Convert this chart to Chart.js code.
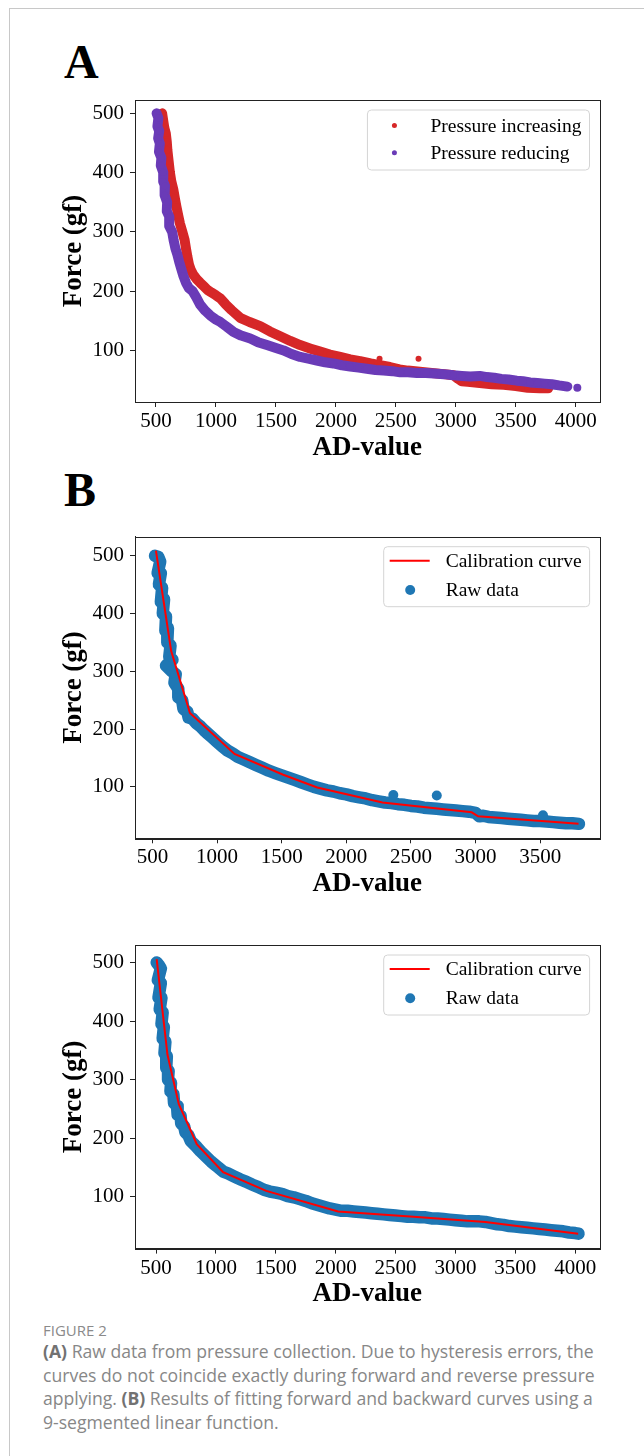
<!DOCTYPE html>
<html>
<head>
<meta charset="utf-8">
<script src="https://cdn.jsdelivr.net/npm/chart.js@4.4.1/dist/chart.umd.min.js"></script>
<style>
  html, body { margin: 0; padding: 0; background: #fff; }
  body { width: 644px; height: 1456px; position: relative; overflow: hidden; }
  .card { position: absolute; left: 9px; top: 8px; width: 700px; height: 1500px;
          border-left: 1px solid #c8c8c8; border-top: 1px solid #c8c8c8; }
  .letter { position: absolute; left: 64px; font-family: 'Liberation Serif', serif;
            font-weight: bold; font-size: 48px; line-height: 48px; color: #000; }
  canvas { position: absolute; left: 0; }
  .fig { position: absolute; left: 43px; top: 1320px; font-family: 'Open Sans', sans-serif;
         font-size: 15px; line-height: 20px; color: #8a8a8a; }
  .cap { position: absolute; left: 43px; top: 1340px; font-family: 'Open Sans', sans-serif;
         font-size: 17.6px; line-height: 23.5px; color: #878787; white-space: nowrap; }
  .cap b { color: #727272; }
</style>
</head>
<body>
<div class="card"></div>
<div class="letter" style="top:38px">A</div>
<div class="letter" style="top:466px">B</div>
<canvas id="chartA" width="644" height="470" style="top:0"></canvas>
<canvas id="chartB" width="644" height="440" style="top:470px"></canvas>
<canvas id="chartC" width="644" height="410" style="top:910px"></canvas>
<div class="fig">FIGURE 2</div>
<div class="cap"><b>(A)</b> Raw data from pressure collection. Due to hysteresis errors, the<br>curves do not coincide exactly during forward and reverse pressure<br>applying. <b>(B)</b> Results of fitting forward and backward curves using a<br>9-segmented linear function.</div>

<script>
// tick labels
const adTicks = [500, 1000, 1500, 2000, 2500, 3000, 3500, 4000];
const adTicksB = [500, 1000, 1500, 2000, 2500, 3000, 3500];
const forceTicks = [100, 200, 300, 400, 500];

// (A) pressure increasing
const incAD = [551, 560, 570, 582, 590, 595, 605, 616, 628, 645, 657, 670, 685, 700, 720, 739, 750, 762, 775, 790,
  810, 840, 869, 900, 930, 960, 1000, 1036, 1080, 1130, 1202, 1280, 1369, 1450, 1536, 1620, 1702, 1790, 1869, 1950,
  2036, 2120, 2202, 2290, 2369, 2450, 2530, 2600, 2700, 2800, 2900, 2980, 3020, 3050, 3100, 3200, 3300, 3400, 3500, 3600,
  3700, 3770];
const incForce = [500, 488, 475, 466, 452, 438, 420, 400, 385, 371, 357, 343, 328, 314, 300, 286, 272, 258, 245, 236,
  228, 220, 214, 208, 202, 198, 193, 188, 178, 168, 155, 148, 141, 132, 124, 116, 109, 103, 98, 93,
  89, 85, 82, 78, 75, 72, 68, 66, 64, 62, 60, 58, 52, 48, 47, 45, 43, 42, 40, 37,
  36, 36];
const incOutAD = [2364, 2689];
const incOutForce = [86, 86];

// (A) pressure reducing
const decAD = [505, 520, 512, 527, 518, 532, 525, 545, 540, 561, 560, 575, 572, 593, 590, 612, 610, 635, 648, 662,
  678, 693, 710, 728, 750, 775, 805, 835, 869, 910, 952, 1000, 1036, 1090, 1147, 1210, 1286, 1350, 1425, 1500,
  1564, 1630, 1702, 1770, 1841, 1910, 1980, 2050, 2119, 2190, 2258, 2330, 2397, 2470, 2536, 2600, 2675, 2750, 2820, 2900,
  2980, 3050, 3120, 3200, 3260, 3320, 3380, 3440, 3508, 3560, 3620, 3680, 3740, 3800, 3860, 3930];
const decForce = [500, 492, 478, 470, 458, 449, 435, 425, 412, 400, 385, 378, 362, 350, 335, 325, 310, 300, 285, 272,
  262, 250, 238, 226, 214, 205, 200, 190, 177, 167, 159, 152, 148, 140, 131, 125, 120, 114, 109, 104,
  100, 94, 89, 86, 83, 80, 78, 75, 73, 71, 69, 67, 66, 65, 63, 63, 62, 62, 61, 60,
  58, 57, 56, 57, 55, 54, 52, 51, 49, 48, 46, 45, 44, 43, 41, 39];
const decOutAD = [4013];
const decOutForce = [37];

// (B) forward curve: raw data + 9-segment fit
const rawAD_B = [520, 545, 560, 540, 565, 550, 575, 565, 590, 580, 605, 600, 620, 615, 640, 630, 655, 605, 650, 680,
  670, 700, 700, 730, 740, 770, 780, 810, 840, 870, 900, 930, 960, 1000, 1040, 1080, 1120, 1160, 1200, 1250,
  1300, 1350, 1400, 1450, 1500, 1550, 1600, 1650, 1700, 1750, 1800, 1850, 1900, 1950, 2000, 2050, 2100, 2150, 2200, 2250,
  2300, 2350, 2400, 2450, 2500, 2550, 2600, 2650, 2700, 2750, 2800, 2850, 2900, 2950, 3000, 3030, 3060, 3100, 3150, 3200,
  3250, 3300, 3350, 3400, 3450, 3500, 3550, 3600, 3650, 3700, 3750, 3800];
const rawForce_B = [500, 498, 490, 470, 470, 450, 445, 420, 425, 400, 395, 370, 375, 350, 345, 325, 320, 310, 300, 295,
  280, 270, 255, 250, 235, 230, 220, 218, 210, 205, 198, 192, 186, 178, 170, 163, 158, 152, 148, 143,
  138, 133, 128, 124, 120, 116, 112, 108, 104, 100, 97, 94, 92, 89, 87, 84, 82, 80, 77, 75,
  73, 72, 70, 69, 67, 66, 64, 63, 62, 61, 60, 59, 58, 57, 55, 49, 50, 48, 47, 46,
  45, 44, 43, 42, 41, 41, 40, 39, 38, 37, 37, 36];
const rawOutAD_B = [2364, 2700, 3522];
const rawOutForce_B = [86, 85, 51];
const fitAD_B = [527, 645, 790, 1135, 1512, 1775, 2280, 2970, 3020, 3797];
const fitForce_B = [509, 335, 228, 157, 121, 99, 73, 56, 49, 36];

// (B) backward curve: raw data + 9-segment fit
const rawAD_C = [505, 525, 540, 515, 540, 520, 545, 530, 555, 545, 565, 555, 578, 570, 590, 585, 605, 600, 625, 620,
  645, 650, 675, 680, 705, 710, 735, 745, 770, 790, 815, 840, 870, 900, 930, 960, 990, 1020, 1060, 1100,
  1150, 1200, 1250, 1300, 1350, 1400, 1450, 1500, 1550, 1600, 1650, 1700, 1750, 1800, 1850, 1900, 1950, 2000, 2050, 2100,
  2150, 2200, 2250, 2300, 2350, 2400, 2450, 2500, 2550, 2600, 2650, 2700, 2750, 2800, 2850, 2900, 2950, 3000, 3050, 3100,
  3150, 3200, 3250, 3300, 3350, 3400, 3450, 3500, 3550, 3600, 3650, 3700, 3750, 3800, 3850, 3900, 3950, 4000, 4028];
const rawForce_C = [500, 495, 490, 470, 465, 440, 440, 420, 415, 395, 390, 370, 365, 345, 340, 320, 315, 300, 295, 280,
  275, 260, 255, 240, 238, 225, 220, 210, 205, 195, 190, 185, 178, 172, 166, 160, 155, 150, 143, 140,
  135, 130, 126, 121, 117, 112, 109, 107, 105, 101, 99, 96, 93, 89, 86, 83, 80, 78, 76, 76,
  75, 74, 73, 72, 71, 70, 69, 68, 67, 66, 66, 65, 65, 63, 63, 62, 61, 60, 59, 58,
  58, 58, 57, 55, 53, 52, 50, 49, 48, 47, 46, 45, 44, 43, 42, 41, 39, 38, 37];
const fitAD_C = [505, 595, 690, 840, 1060, 1420, 2020, 2650, 3250, 4025];
const fitForce_C = [506, 343, 258, 190, 142, 110, 75, 66, 57, 37];

const RED = '#d62728', PURPLE = '#6a3bb7', BLUE = '#1f77b4', FIT = '#ff0000';
const SERIF = "'Liberation Serif', 'Times New Roman', serif";

const pts = (xs, ys) => xs.map((x, i) => ({ x: x, y: ys[i] }));

// matplotlib-like box around the axes
const frame = {
  id: 'frame',
  afterDatasetsDraw(chart) {
    const a = chart.chartArea, ctx = chart.ctx;
    ctx.save();
    ctx.strokeStyle = '#222';
    ctx.lineWidth = 1;
    ctx.strokeRect(Math.round(a.left) + 0.5, Math.round(a.top) + 0.5,
      Math.round(a.right - a.left), Math.round(a.bottom - a.top));
    ctx.restore();
  }
};

// legend box in the upper right corner, entries taken from the datasets
const legendBox = {
  id: 'legendBox',
  afterDraw(chart, args, opts) {
    if (!opts.items) return;
    const ctx = chart.ctx, a = chart.chartArea;
    ctx.save();
    ctx.font = '19.5px ' + SERIF;
    const labels = opts.items.map(it => chart.data.datasets[it.ds].label);
    const textW = Math.max(...labels.map(l => ctx.measureText(l).width));
    const w = opts.textX + textW + 8, h = 60;
    const x0 = a.right - 10 - w, y0 = a.top + 10;
    ctx.beginPath();
    ctx.roundRect(x0, y0, w, h, 4);
    ctx.fillStyle = 'rgba(255,255,255,0.8)';
    ctx.fill();
    ctx.strokeStyle = '#d4d4d4';
    ctx.lineWidth = 1;
    ctx.stroke();
    opts.items.forEach((it, i) => {
      const ds = chart.data.datasets[it.ds];
      const y = y0 + opts.rowY[i];
      if (it.kind === 'line') {
        ctx.strokeStyle = ds.borderColor;
        ctx.lineWidth = 2;
        ctx.beginPath();
        ctx.moveTo(x0 + 6, y);
        ctx.lineTo(x0 + 46, y);
        ctx.stroke();
      } else {
        ctx.fillStyle = ds.backgroundColor;
        ctx.beginPath();
        ctx.arc(x0 + opts.dotX, y, opts.dotR, 0, Math.PI * 2);
        ctx.fill();
      }
      ctx.fillStyle = '#000';
      ctx.textBaseline = 'middle';
      ctx.fillText(labels[i], x0 + opts.textX, y + 1);
    });
    ctx.restore();
  }
};

function axes(xRange, yRange, xTicks, yW, xH) {
  const tickFont = { family: SERIF, size: 21 };
  const titleFont = { family: SERIF, size: 27, weight: 'bold', lineHeight: 1.2 };
  const grid = { drawOnChartArea: false, tickLength: 5, tickColor: '#222', tickWidth: 1 };
  return {
    x: {
      type: 'linear', min: xRange[0], max: xRange[1],
      afterBuildTicks: s => { s.ticks = xTicks.map(v => ({ value: v })); },
      afterFit: s => { s.height = xH; },
      ticks: { font: tickFont, color: '#000', padding: 2, maxRotation: 0, autoSkip: false, callback: v => String(v) },
      grid: grid,
      border: { display: true, color: '#222', width: 1 },
      title: { display: true, text: 'AD-value', font: titleFont, color: '#000', padding: 0 }
    },
    y: {
      type: 'linear', min: yRange[0], max: yRange[1],
      afterBuildTicks: s => { s.ticks = forceTicks.map(v => ({ value: v })); },
      afterFit: s => { s.width = yW; },
      ticks: { font: tickFont, color: '#000', padding: 6, autoSkip: false, callback: v => String(v) },
      grid: grid,
      border: { display: true, color: '#222', width: 1 },
      title: { display: true, text: 'Force (gf)', font: titleFont, color: '#000', padding: 0 }
    }
  };
}

function band(label, xs, ys, color, width, r, order) {
  return {
    label: label, data: pts(xs, ys), showLine: true, tension: 0,
    borderColor: color, backgroundColor: color, borderWidth: width,
    borderJoinStyle: 'round', borderCapStyle: 'round',
    pointRadius: r, pointBorderWidth: 0, pointBackgroundColor: color, order: order
  };
}
function dots(label, xs, ys, color, r, order) {
  return {
    label: label, data: pts(xs, ys), showLine: false,
    backgroundColor: color, borderColor: color, pointRadius: r, pointBorderWidth: 0, order: order
  };
}

const common = {
  responsive: false, animation: false, devicePixelRatio: 1,
  plugins: { legend: { display: false }, tooltip: { enabled: false } }
};

new Chart(document.getElementById('chartA'), {
  type: 'scatter',
  data: {
    datasets: [
      band('Pressure increasing', incAD, incForce, RED, 10, 3.5, 4),
      band('Pressure reducing', decAD, decForce, PURPLE, 10, 3.5, 2),
      dots('', incOutAD, incOutForce, RED, 3, 3),
      dots('', decOutAD, decOutForce, PURPLE, 4, 1)
    ]
  },
  options: Object.assign({}, common, {
    layout: { padding: { left: 58, right: 44.5, top: 100, bottom: 6 } },
    scales: axes([325, 4198], [13, 522.5], adTicks, 77, 62),
    plugins: Object.assign({}, common.plugins, {
      legendBox: { items: [{ ds: 0, kind: 'dot' }, { ds: 1, kind: 'dot' }], rowY: [15.5, 42.8], dotX: 27, dotR: 2.5, textX: 63 }
    })
  }),
  plugins: [frame, legendBox]
});

new Chart(document.getElementById('chartB'), {
  type: 'scatter',
  data: {
    datasets: [
      { label: 'Calibration curve', data: pts(fitAD_B, fitForce_B), showLine: true, tension: 0,
        borderColor: FIT, backgroundColor: FIT, borderWidth: 2, pointRadius: 0, order: 0 },
      band('Raw data', rawAD_B, rawForce_B, BLUE, 12.5, 5.5, 2),
      dots('', rawOutAD_B, rawOutForce_B, BLUE, 5, 1)
    ]
  },
  options: Object.assign({}, common, {
    layout: { padding: { left: 58, right: 44.4, top: 66.7, bottom: 10 } },
    scales: axes([365, 3960], [11, 533], adTicksB, 77, 61.7),
    plugins: Object.assign({}, common.plugins, {
      legendBox: { items: [{ ds: 0, kind: 'line' }, { ds: 1, kind: 'dot' }], rowY: [14, 43.3], dotX: 26.5, dotR: 5, textX: 62 }
    })
  }),
  plugins: [frame, legendBox]
});

new Chart(document.getElementById('chartC'), {
  type: 'scatter',
  data: {
    datasets: [
      { label: 'Calibration curve', data: pts(fitAD_C, fitForce_C), showLine: true, tension: 0,
        borderColor: FIT, backgroundColor: FIT, borderWidth: 2, pointRadius: 0, order: 0 },
      band('Raw data', rawAD_C, rawForce_C, BLUE, 12.5, 5.5, 2)
    ]
  },
  options: Object.assign({}, common, {
    layout: { padding: { left: 58, right: 44.4, top: 35, bottom: 9.6 } },
    scales: axes([324, 4204], [11.5, 530], adTicks, 77, 61.8),
    plugins: Object.assign({}, common.plugins, {
      legendBox: { items: [{ ds: 0, kind: 'line' }, { ds: 1, kind: 'dot' }], rowY: [14, 43.3], dotX: 26.5, dotR: 5, textX: 62 }
    })
  }),
  plugins: [frame, legendBox]
});
</script>
</body>
</html>
